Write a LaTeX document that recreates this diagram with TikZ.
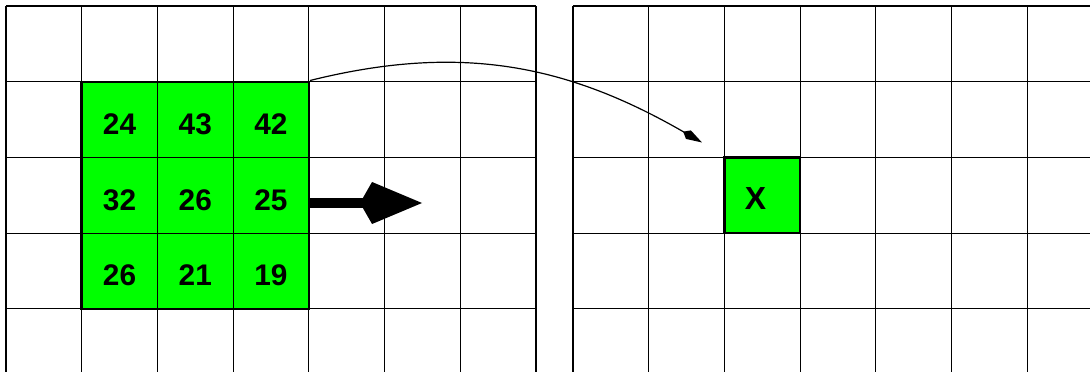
\documentclass[tikz,border=0pt]{standalone}
\usepackage{fontspec}
\setmainfont{Liberation Sans}
\usepackage{xcolor}
\definecolor{cellgreen}{RGB}{0,255,0}
\usetikzlibrary{arrows.meta,calc}
\tikzset{
  gridline/.style={black,line width=0.45pt},
  greenbox/.style={draw=black,line width=0.9pt,fill=cellgreen,inner sep=0pt},
  cellval/.style={font=\fontsize{11.2}{13}\selectfont\bfseries,inner sep=0pt}
}
\begin{document}
\begin{tikzpicture}
  % lienzo: 1 celda = 1 cm
  \clip (-0.079,-4.834) rectangle (14.318,0.079);
  % --- bloque 3x3 de origen y celda destino ---
  \node[greenbox,minimum size=3cm] (src) at (2.5,-2.5) {};
  \node[greenbox,minimum size=1cm] (dst) at (9.989,-2.5) {};
  % --- rejillas ---
  \draw[gridline] (0,-5) grid (7,0);
  \begin{scope}[xshift=7.489cm]
    \draw[gridline] (0,-5) grid (7.5,0);
  \end{scope}
  % --- valores del bloque ---
  \foreach \val/\c/\r in {24/1/1,43/2/1,42/3/1,32/1/2,26/2/2,25/3/2,26/1/3,21/2/3,19/3/3}
    \node[cellval] (v\r\c) at (\c+0.5,-\r-0.56) {\val};
  \node[cellval,font=\fontsize{12}{14}\selectfont\bfseries] (xval) at ($(dst.center)+(-0.09,-0.045)$) {X};
  % --- flechas ---
  \coordinate (tip) at (5.495,-2.602);
  \coordinate (mark) at (9.193,-1.803);
  \draw[line width=3.7pt,-{Kite[length=0.819cm,width=0.555cm,inset=0.159cm,line width=0pt]}]
    (src.east |- tip) -- (tip);
  \draw[line width=0.45pt,-{Kite[length=0.287cm,width=0.13cm,inset=0.08cm,line width=0pt]}]
    (src.north east) to[out=14,in=150] (mark);
\end{tikzpicture}
\end{document}
